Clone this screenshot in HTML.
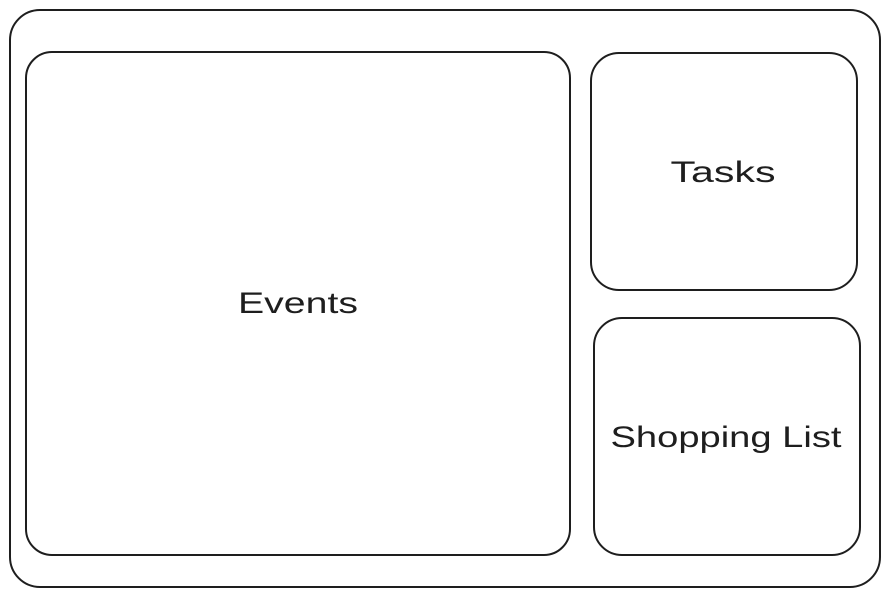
<!DOCTYPE html>
<html><head><meta charset="utf-8"><style>html,body{margin:0;padding:0;background:#fff}svg{display:block}</style></head>
<body>
<svg width="890" height="597" viewBox="0 0 890 597" xmlns="http://www.w3.org/2000/svg">
<g fill="none" stroke="#1e1e1e" stroke-width="2">
<rect x="10" y="10" width="870" height="577" rx="30"/>
<rect x="26" y="52" width="544" height="503" rx="26"/>
<rect x="591" y="53" width="266" height="237" rx="28"/>
<rect x="594" y="318" width="266" height="237" rx="28"/>
</g>
<g font-family="Liberation Sans, sans-serif" font-size="30" fill="#1e1e1e" text-anchor="middle">
<text x="298" y="313" textLength="120" lengthAdjust="spacingAndGlyphs">Events</text>
<text x="723" y="182" textLength="105" lengthAdjust="spacingAndGlyphs">Tasks</text>
<text x="726" y="447" textLength="231" lengthAdjust="spacingAndGlyphs">Shopping List</text>
</g>
</svg>
</body></html>
